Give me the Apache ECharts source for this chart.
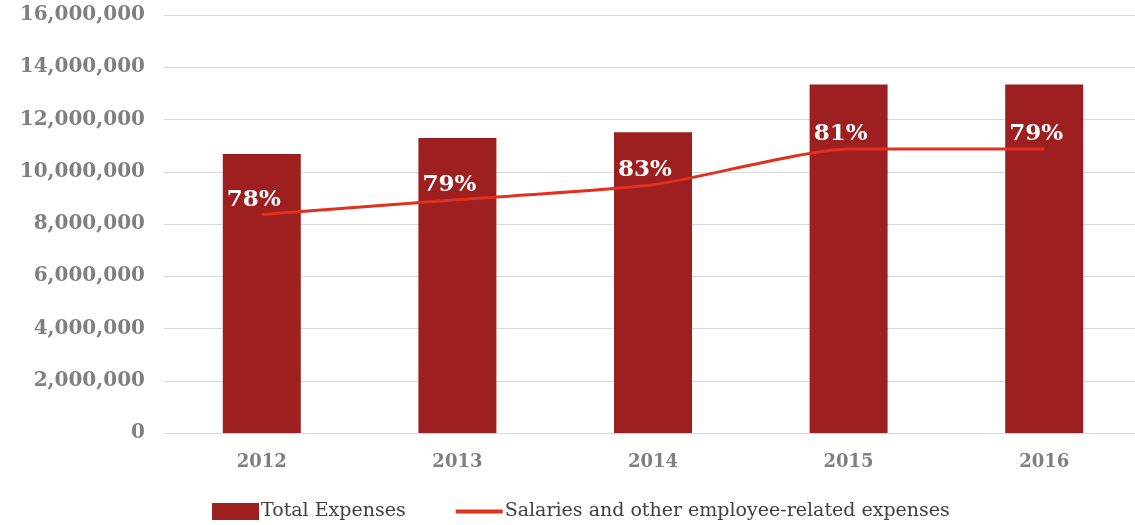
<!DOCTYPE html>
<html>
<head>
<meta charset="utf-8">
<script src="https://cdn.jsdelivr.net/npm/echarts@6/dist/echarts.min.js"></script>
<style>html,body{margin:0;padding:0;background:#fff;}#c{width:1135px;height:525px;}</style>
</head>
<body>
<div id="c"></div>
<script>
const years = ['2012', '2013', '2014', '2015', '2016'];
const totalExpenses = [10680000, 11290000, 11510000, 13340000, 13340000];
const salaries = [8360000, 8930000, 9500000, 10870000, 10870000];
const salaryPct = ['78%', '79%', '83%', '81%', '79%'];
const yTicks = { min: 0, max: 16000000, interval: 2000000 };

const font = 'DejaVu Serif';
const chart = echarts.init(document.getElementById('c'));
chart.setOption({
  animation: false,
  grid: { left: 164, width: 978, top: 15, bottom: 92, outerBoundsMode: 'none', containLabel: false },
  legend: {
    left: 207, top: 497,
    itemGap: 50, itemWidth: 47, itemHeight: 17,
    textStyle: { fontFamily: font, fontSize: 19, color: '#404040', padding: [0, 0, 0, -3] },
    data: [
      { name: 'Total Expenses', icon: 'rect' },
      { name: 'Salaries and other employee-related expenses',
        icon: 'path://M0,0L0,0M0,6.5L47,6.5L47,10.5L0,10.5ZM47,17L47,17' }
    ]
  },
  xAxis: {
    type: 'category', data: years,
    axisLine: { show: false }, axisTick: { show: false },
    axisLabel: { fontFamily: font, fontWeight: 'bold', fontSize: 18, color: '#7f7f7f', margin: 20 }
  },
  yAxis: {
    type: 'value', min: yTicks.min, max: yTicks.max, interval: yTicks.interval,
    axisLine: { show: false }, axisTick: { show: false },
    splitLine: { lineStyle: { color: '#d9d9d9', width: 1 } },
    axisLabel: {
      fontFamily: font, fontWeight: 'bold', fontSize: 20, color: '#7f7f7f', margin: 19,
      formatter: v => v.toLocaleString('en-US')
    }
  },
  series: [
    {
      name: 'Total Expenses', type: 'bar', data: totalExpenses, barWidth: 78,
      itemStyle: { color: '#9e1f20' }
    },
    {
      name: 'Salaries and other employee-related expenses', type: 'line', data: salaries,
      z: 5, smooth: 0.2, showSymbol: true, symbol: 'circle', symbolSize: 1,
      lineStyle: { color: '#e0301e', width: 3 },
      itemStyle: { color: '#e0301e' },
      label: {
        show: true, position: 'top', distance: 3, offset: [-8, 0],
        fontFamily: font, fontWeight: 'bold', fontSize: 23, color: '#ffffff',
        formatter: p => salaryPct[p.dataIndex]
      }
    }
  ]
});
</script>
</body>
</html>
